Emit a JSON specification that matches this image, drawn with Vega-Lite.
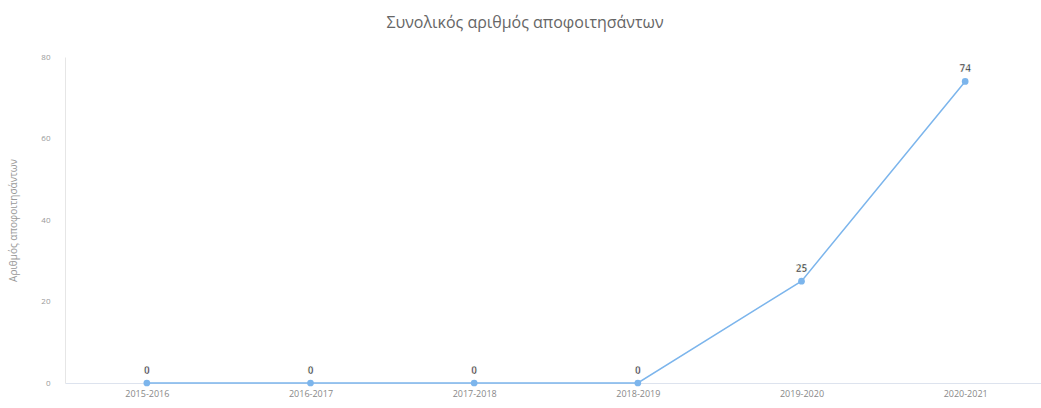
{
  "$schema": "https://vega.github.io/schema/vega-lite/v6.json",
  "autosize": {"type": "none"},
  "width": 982,
  "height": 326,
  "padding": {"left": 65, "top": 57, "right": 0, "bottom": 25},
  "background": "white",
  "config": {"view": {"stroke": null}, "font": "Open Sans"},
  "title": {
    "text": "Συνολικός αριθμός αποφοιτησάντων",
    "fontSize": 16,
    "fontWeight": "normal",
    "color": "#666666",
    "font": "Open Sans",
    "anchor": "middle",
    "dx": -31,
    "offset": 22
  },
  "data": {
    "values": [
      {"year": "2015-2016", "count": 0},
      {"year": "2016-2017", "count": 0},
      {"year": "2017-2018", "count": 0},
      {"year": "2018-2019", "count": 0},
      {"year": "2019-2020", "count": 25},
      {"year": "2020-2021", "count": 74}
    ]
  },
  "encoding": {
    "x": {
      "field": "year",
      "type": "ordinal",
      "sort": null,
      "scale": {"type": "point", "padding": 0.5},
      "axis": {
        "title": null,
        "labelAngle": 0,
        "labelFontSize": 9,
        "labelColor": "#888888",
        "labelPadding": 6,
        "domainColor": "#dde3ee",
        "ticks": false,
        "grid": false
      }
    },
    "y": {
      "field": "count",
      "type": "quantitative",
      "scale": {"domain": [0, 80]},
      "axis": {
        "title": "Αριθμός αποφοιτησάντων",
        "titleFontSize": 10,
        "titleFontWeight": "normal",
        "titleColor": "#999999",
        "titlePadding": 22,
        "values": [0, 20, 40, 60, 80],
        "labelFontSize": 8,
        "labelColor": "#999999",
        "labelPadding": 15,
        "domain": true,
        "domainColor": "#e6e6e6",
        "ticks": false,
        "grid": false
      }
    }
  },
  "layer": [
    {
      "mark": {"type": "line", "color": "#7cb5ec", "strokeWidth": 1.5}
    },
    {
      "mark": {"type": "point", "filled": true, "color": "#7cb5ec", "size": 45, "opacity": 1}
    },
    {
      "mark": {"type": "text", "dy": -12, "fontSize": 10, "fontWeight": "bold", "color": "#222222", "stroke": "white", "strokeWidth": 0.5},
      "encoding": {"text": {"field": "count", "type": "quantitative"}}
    }
  ]
}
